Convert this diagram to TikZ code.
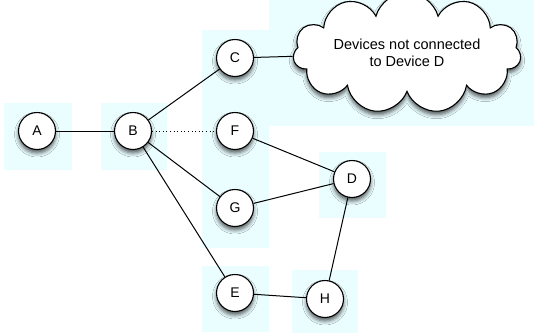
\documentclass[tikz,border=0pt]{standalone}
\usepackage{fontspec}
\setmainfont{Liberation Sans}
\usetikzlibrary{shapes.symbols,shadows.blur}
\definecolor{zone}{RGB}{234,253,255}
\tikzset{
  >=latex,
  dev/.style={circle,draw,fill=white,line width=1.1pt,minimum size=37pt,
    inner sep=0pt,font=\fontsize{14}{16}\selectfont,
    blur shadow={shadow xshift=0pt,shadow yshift=-3.5pt,
      shadow blur radius=4pt,shadow opacity=65}},
  link/.style={line width=1pt}
}

\begin{document}
\begin{tikzpicture}[x=1pt,y=-1pt]
      \useasboundingbox (0,0) rectangle (534,333);
      % light areas behind the devices
      \fill[zone] (4,103) rectangle (72,170);
      \fill[zone] (101,103) rectangle (167,170);
      \fill[zone] (202,30) rectangle (269,248);
      \fill[zone] (269,0) rectangle (534,126);
      \fill[zone] (319,152) rectangle (386,218);
      \fill[zone] (202,266) rectangle (269,332);
      \fill[zone] (292,270) rectangle (358,333);
      \node[dev] (A) at (37,131) {A};
      \node[dev] (B) at (133,131) {B};
      \node[dev] (C) at (235,58) {C};
      \node[dev] (F) at (235,131) {F};
      \node[dev] (G) at (235,208) {G};
      \node[dev] (D) at (352,179) {D};
      \node[dev] (E) at (235,293) {E};
      \node[dev] (H) at (325,299) {H};
      \node[cloud,draw,fill=white,line width=1.1pt,cloud puffs=11,aspect=2.8,
        minimum width=228pt,minimum height=90pt,align=center,
        font=\fontsize{14.5}{17}\selectfont,
        blur shadow={shadow xshift=0pt,shadow yshift=-3.5pt,
          shadow blur radius=4pt,shadow opacity=65}]
        (cloud) at (407,53) {Devices not connected\\to Device D};
      \foreach \a/\b in {A/B,B/C,B/G,B/E,F/D,G/D,D/H,E/H,C/cloud}
      \draw[link] (\a)--(\b);
      \draw[link,dash pattern=on 1pt off 2.6pt] (B)--(F);
\end{tikzpicture}
\end{document}
